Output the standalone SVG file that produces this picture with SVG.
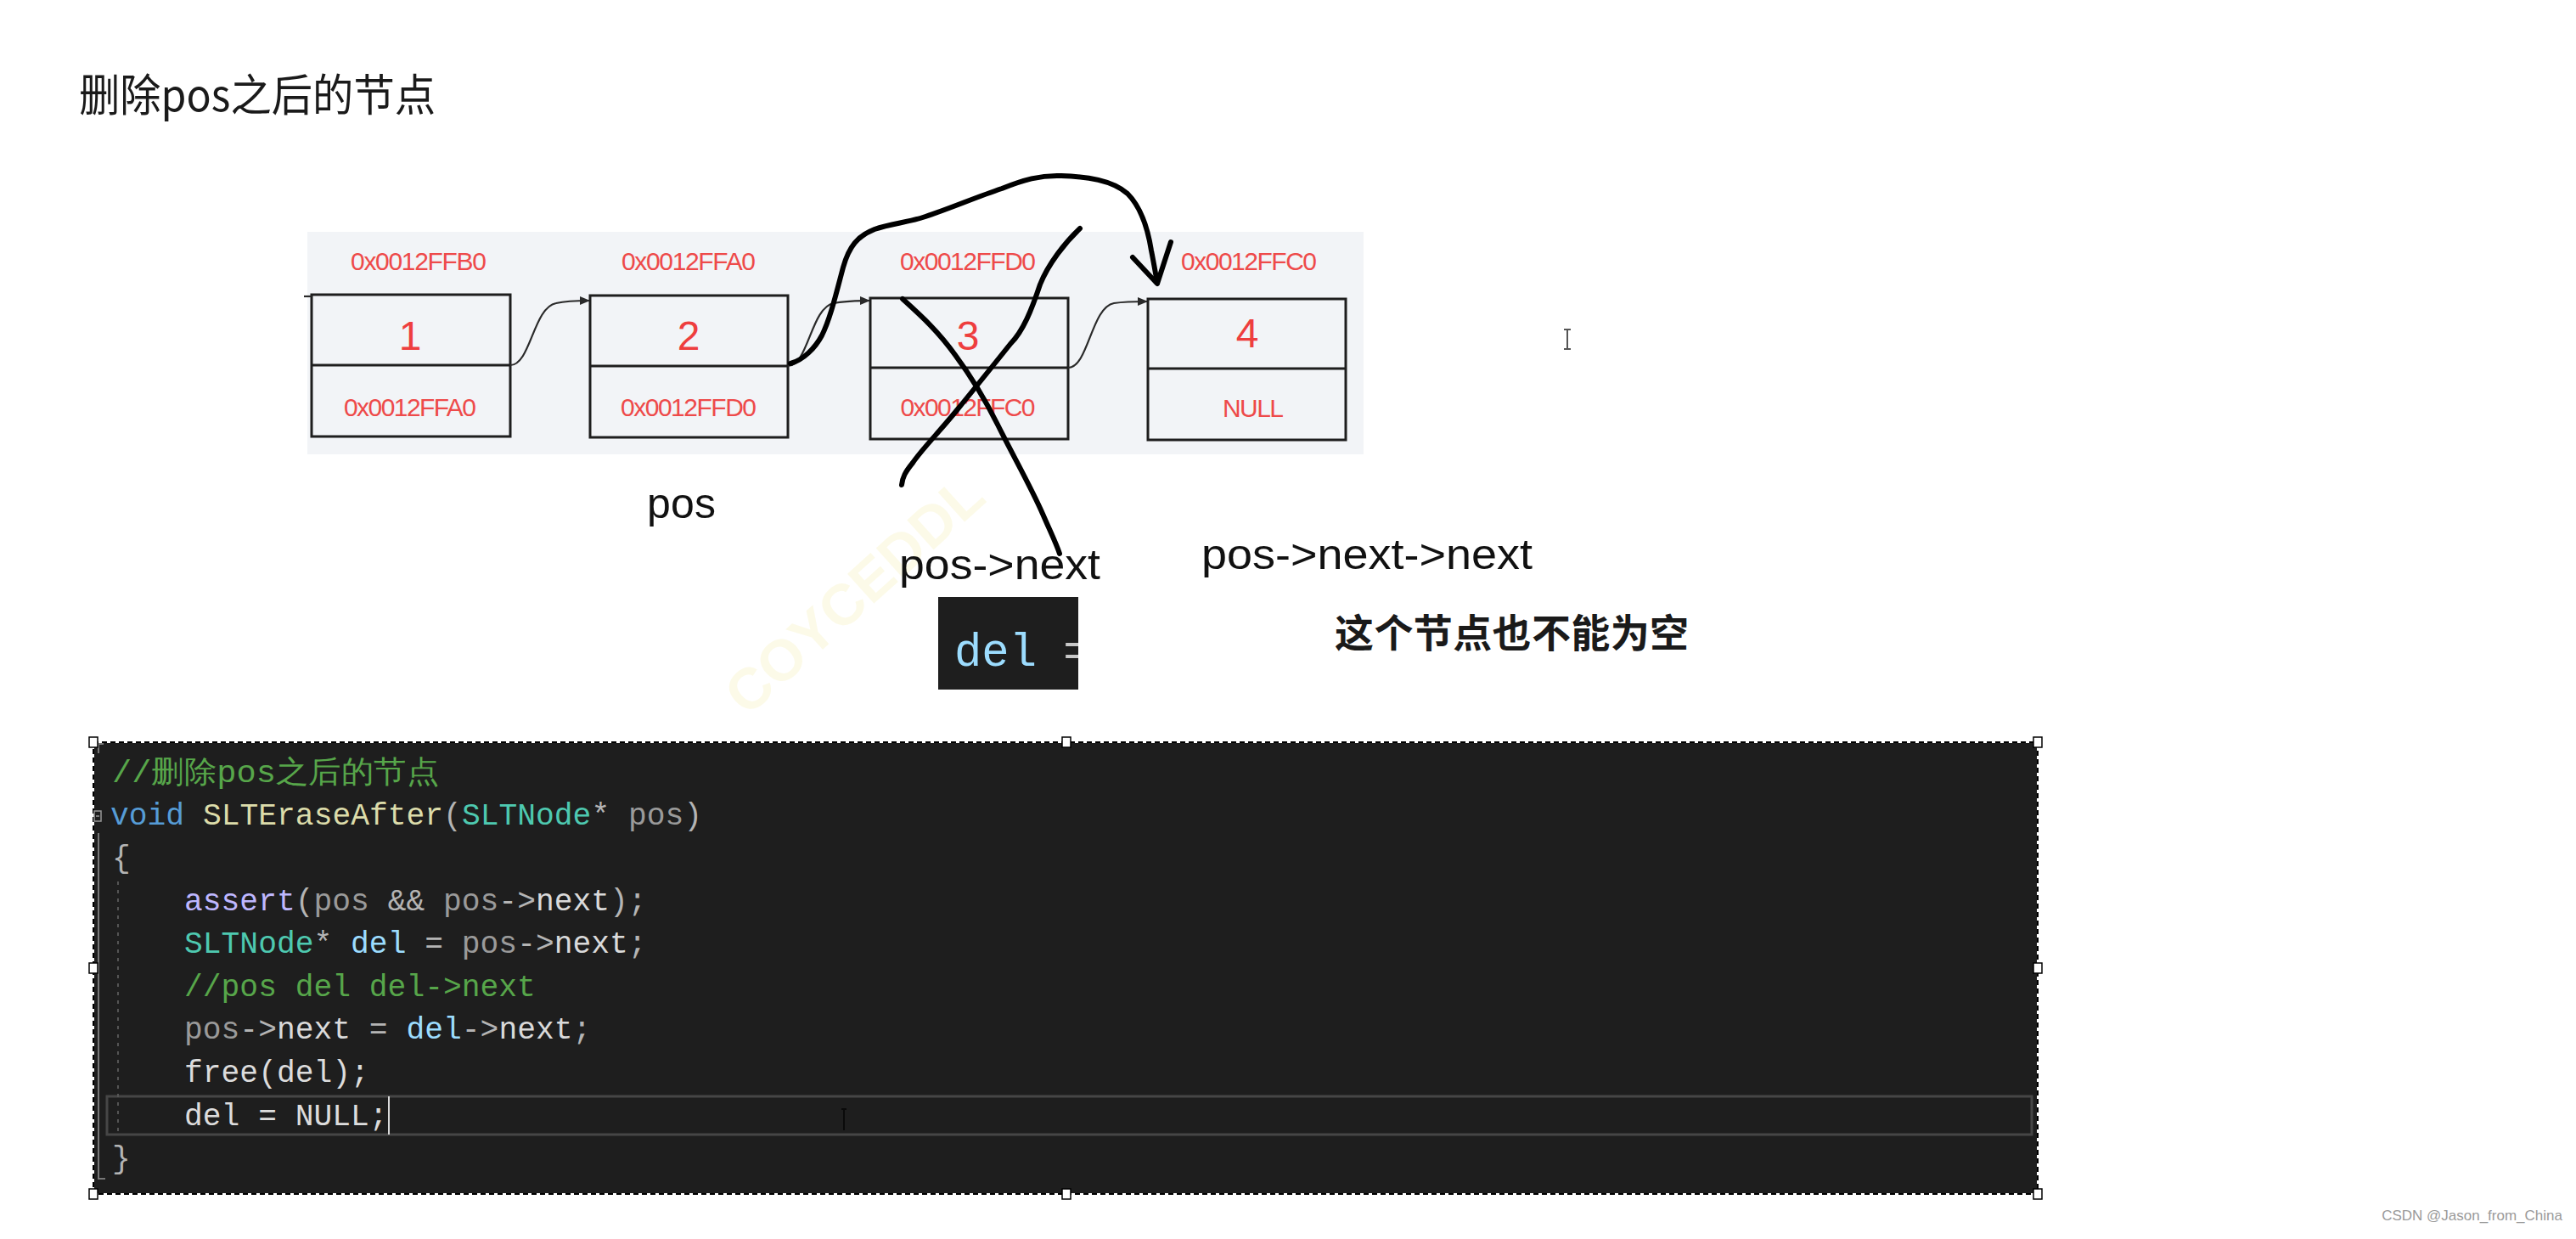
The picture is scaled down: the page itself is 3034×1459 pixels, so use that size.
<svg xmlns="http://www.w3.org/2000/svg" width="3034" height="1459" viewBox="0 0 3034 1459">
<style>
.title{font-family:"Noto Sans CJK SC","Noto Sans",sans-serif;font-size:52px;fill:#1a1a1a}
.addr{font-family:"Liberation Sans","Noto Sans",sans-serif;font-size:30px;fill:#ee4a4a;text-anchor:middle}
.num{font-family:"Liberation Sans","Noto Sans",sans-serif;font-size:48px;fill:#ee3e3e;text-anchor:middle}
.box{fill:none;stroke:#1e1e1e;stroke-width:3}
.lbl{font-family:"Liberation Sans","Noto Sans",sans-serif;font-size:50px;fill:#111}
.note{font-family:"Noto Sans CJK SC",sans-serif;font-size:46px;font-weight:700;fill:#1a1a1a}
.link{fill:none;stroke:#2a2a2a;stroke-width:2.2}
.hand{fill:none;stroke:#000;stroke-width:6;stroke-linecap:round;stroke-linejoin:round}
.code{font-family:"Liberation Mono","DejaVu Sans Mono",monospace;font-size:36.3px;white-space:pre;fill:#b4b4b4}
.cm{fill:#57a64a}.kw{fill:#569cd6}.fn{fill:#dcdcaa}.ty{fill:#4ec9b0}.pa{fill:#9a9a9a}.mc{fill:#beb7ff}.mb{fill:#dadada}.lv{fill:#9cdcfe}.wh{fill:#dcdcdc}
.handle{fill:#fff;stroke:#000;stroke-width:1.5}
.snip{font-family:"Liberation Mono","DejaVu Sans Mono",monospace;font-size:56px}
</style>
<defs>
<marker id="ah" viewBox="0 0 12 10" refX="11" refY="5" markerWidth="12" markerHeight="10" markerUnits="userSpaceOnUse" orient="auto">
<path d="M0,0 L12,5 L0,10 Z" fill="#2a2a2a"/>
</marker>
<clipPath id="delclip"><rect x="1105" y="703" width="165" height="109"/></clipPath>
</defs>
<rect width="3034" height="1459" fill="#ffffff"/>

<text class="title" x="93" y="131" textLength="420" lengthAdjust="spacingAndGlyphs">删除pos之后的节点</text>

<text x="880" y="845" transform="rotate(-42 880 845)" font-family="Liberation Sans,sans-serif" font-size="68" font-weight="700" fill="#fbf7d2" opacity="0.5">COYCEDDL</text>

<rect id="panel" x="362" y="273" width="1244" height="262" fill="#f2f4f7"/>

<g id="node1">
<rect class="box" x="367" y="347" width="234" height="167"/>
<line class="box" x1="367" y1="430" x2="601" y2="430"/>
<text class="addr" x="493" y="318" textLength="160">0x0012FFB0</text>
<text class="num" x="483" y="412">1</text>
<text class="addr" x="483" y="490" textLength="156">0x0012FFA0</text>
</g>
<g id="node2">
<rect class="box" x="695" y="348" width="233" height="167"/>
<line class="box" x1="695" y1="431" x2="928" y2="431"/>
<text class="addr" x="811" y="318" textLength="158">0x0012FFA0</text>
<text class="num" x="811" y="412">2</text>
<text class="addr" x="811" y="490" textLength="160">0x0012FFD0</text>
</g>
<g id="node3">
<rect class="box" x="1025" y="351" width="233" height="166"/>
<line class="box" x1="1025" y1="433" x2="1258" y2="433"/>
<text class="addr" x="1140" y="318" textLength="160">0x0012FFD0</text>
<text class="num" x="1140" y="412">3</text>
<text class="addr" x="1140" y="490" textLength="159">0x0012FFC0</text>
</g>
<g id="node4">
<rect class="box" x="1352" y="352" width="233" height="166"/>
<line class="box" x1="1352" y1="434" x2="1585" y2="434"/>
<text class="addr" x="1471" y="318" textLength="160">0x0012FFC0</text>
<text class="num" x="1469" y="409">4</text>
<text class="addr" x="1476" y="491" textLength="72">NULL</text>
</g>

<g id="connectors">
<line class="link" x1="358" y1="349" x2="367" y2="349"/>
<path class="link" marker-end="url(#ah)" d="M601,430 C625,430 628,362 655,357 C668,354 680,354 694,354"/>
<path class="link" marker-end="url(#ah)" d="M928,431 C952,431 955,362 982,357 C996,354 1008,354 1024,354"/>
<path class="link" marker-end="url(#ah)" d="M1258,433 C1282,433 1285,362 1312,357 C1326,355 1338,355 1351,355"/>
<path class="hand" d="M931,428 C946,424 960,410 968,395 C978,375 985,345 993,315 C1000,290 1010,278 1030,270 C1050,263 1070,262 1090,255 C1120,245 1150,232 1180,222 C1205,212 1225,206 1250,207 C1280,208 1310,212 1328,228 C1345,245 1352,270 1356,295 C1359,310 1361,322 1363,333"/>
<path class="hand" d="M1334,303 L1363,334 L1379,285"/>
<path class="hand" d="M1063,352 C1085,372 1105,390 1125,418 C1145,445 1160,470 1175,500 C1195,540 1215,575 1228,605 C1238,628 1244,640 1248,652"/>
<path class="hand" d="M1272,269 C1255,285 1235,310 1225,335 C1215,365 1205,390 1190,405 C1170,430 1150,455 1127,483 C1105,510 1085,530 1075,545 C1066,556 1063,562 1062,571"/>
</g>

<g id="labels">
<text class="lbl" x="762" y="610" textLength="81">pos</text>
<text class="lbl" x="1059" y="682" textLength="237" lengthAdjust="spacingAndGlyphs">pos->next</text>
<text class="lbl" x="1415" y="670" textLength="390" lengthAdjust="spacingAndGlyphs">pos->next->next</text>
<text class="note" x="1572" y="762" textLength="417">这个节点也不能为空</text>
</g>

<g id="del-snippet">
<rect x="1105" y="703" width="165" height="109" fill="#1e1e1e"/>
<text class="snip" x="1124" y="784" fill="#9cdcfe" textLength="97" lengthAdjust="spacingAndGlyphs">del</text>
<g clip-path="url(#delclip)"><text class="snip" x="1252" y="784" fill="#c8c8c8">=</text></g>
</g>

<g id="cursor-top" stroke="#555" stroke-width="2" fill="none">
<line x1="1846" y1="388" x2="1846" y2="411"/>
<line x1="1842" y1="388" x2="1850" y2="388"/>
<line x1="1842" y1="411" x2="1850" y2="411"/>
</g>

<g id="code-block">
<rect x="110" y="874" width="2290" height="532" fill="#1e1e1e"/>
<rect x="110" y="874" width="2290" height="532" fill="none" stroke="#ffffff" stroke-width="2"/>
<rect x="110" y="874" width="2290" height="532" fill="none" stroke="#000000" stroke-width="2" stroke-dasharray="6 4"/>
<rect x="126" y="1291" width="2267" height="45" fill="none" stroke="#464646" stroke-width="3"/>
<path d="M122,876 L116,876 L116,887" fill="none" stroke="#777" stroke-width="2"/>
<path d="M116,981 L116,1388 L124,1388" fill="none" stroke="#777" stroke-width="2"/>
<rect x="111" y="955" width="8" height="12" fill="none" stroke="#999" stroke-width="1.5"/>
<line x1="113" y1="961" x2="117" y2="961" stroke="#999" stroke-width="1.5"/>
<line x1="139" y1="1038" x2="139" y2="1336" stroke="#555" stroke-width="2" stroke-dasharray="4 6"/>
<text class="code cm" x="132" y="921" textLength="385" lengthAdjust="spacingAndGlyphs">//删除pos之后的节点</text>
<text class="code" x="130" y="971"><tspan class="kw">void</tspan> <tspan class="fn">SLTEraseAfter</tspan>(<tspan class="ty">SLTNode</tspan>* <tspan class="pa">pos</tspan>)</text>
<text class="code" x="132" y="1021">{</text>
<text class="code" x="217" y="1072"><tspan class="mc">assert</tspan>(<tspan class="pa">pos</tspan> &amp;&amp; <tspan class="pa">pos</tspan>-&gt;<tspan class="mb">next</tspan>);</text>
<text class="code" x="217" y="1122"><tspan class="ty">SLTNode</tspan>* <tspan class="lv">del</tspan> = <tspan class="pa">pos</tspan>-&gt;<tspan class="mb">next</tspan>;</text>
<text class="code cm" x="217" y="1173">//pos del del-&gt;next</text>
<text class="code" x="217" y="1223"><tspan class="pa">pos</tspan>-&gt;<tspan class="mb">next</tspan> = <tspan class="lv">del</tspan>-&gt;<tspan class="mb">next</tspan>;</text>
<text class="code wh" x="217" y="1274">free(del);</text>
<text class="code wh" x="217" y="1325">del = NULL;</text>
<line x1="458" y1="1291" x2="458" y2="1336" stroke="#dadada" stroke-width="2"/>
<text class="code" x="132" y="1375">}</text>
<g stroke="#0a0a0a" stroke-width="2">
<line x1="994" y1="1306" x2="994" y2="1331"/>
<line x1="991" y1="1306" x2="997" y2="1306"/>
</g>
<rect class="handle" x="105" y="868" width="10" height="12"/>
<rect class="handle" x="1251" y="868" width="10" height="12"/>
<rect class="handle" x="2395" y="868" width="10" height="12"/>
<rect class="handle" x="105" y="1134" width="10" height="12"/>
<rect class="handle" x="2395" y="1134" width="10" height="12"/>
<rect class="handle" x="105" y="1400" width="10" height="12"/>
<rect class="handle" x="1251" y="1400" width="10" height="12"/>
<rect class="handle" x="2395" y="1400" width="10" height="12"/>
</g>

<text x="3018" y="1437" text-anchor="end" font-family="Liberation Sans,sans-serif" font-size="17" fill="#9a9a9a">CSDN @Jason_from_China</text>
</svg>
